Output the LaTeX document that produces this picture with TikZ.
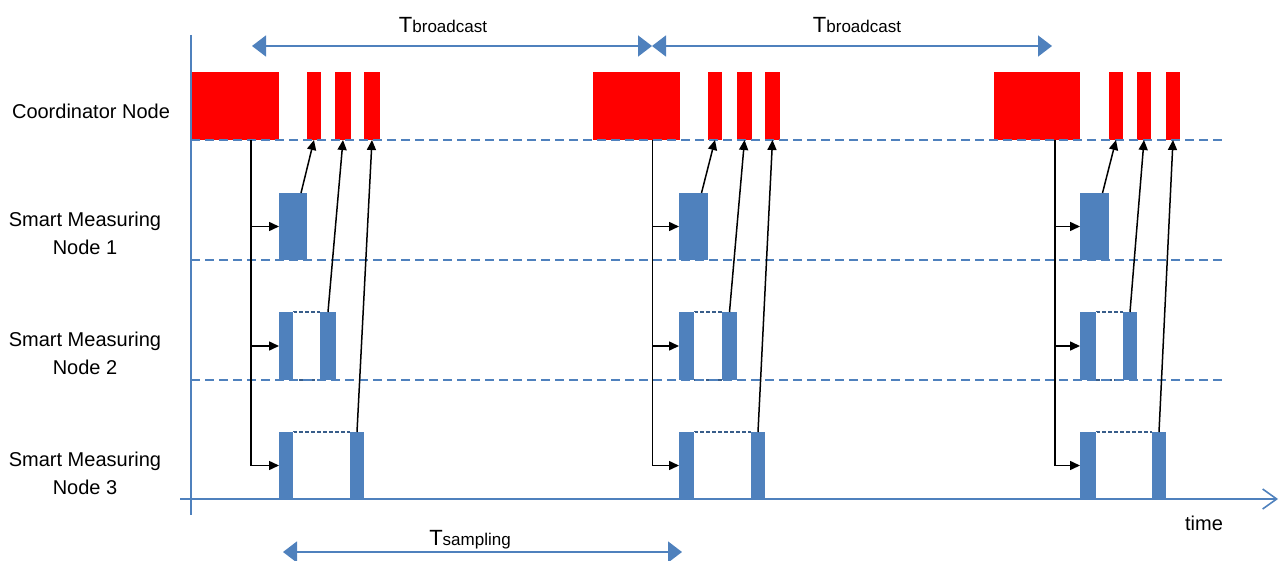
\documentclass[tikz,border=0pt]{standalone}
\usepackage{fontspec}
\setmainfont{Liberation Sans}
\usepackage{tikz}
\usetikzlibrary{calc,arrows.meta}

\definecolor{axisblue}{RGB}{79,129,189}
\definecolor{boxblue}{RGB}{56,93,138}

\begin{document}
\begin{tikzpicture}[x=1pt,y=-1pt,
  redblk/.style={fill=red,inner sep=0pt,outer sep=0pt,anchor=north west,minimum height=68pt},
  blublk/.style={fill=axisblue,inner sep=0pt,outer sep=0pt,anchor=north west,minimum height=67pt},
  lane/.style={axisblue,line width=1.5pt,dash pattern=on 9pt off 5pt},
  trig/.style={line width=1.5pt,-{Triangle[length=10pt,width=9pt]}},
  waitbox/.style={boxblue,line width=1.2pt,dash pattern=on 4pt off 2pt},
  periodarrow/.style={axisblue,line width=1.6pt,{Triangle[length=14pt,width=21pt]}-{Triangle[length=14pt,width=21pt]}},
  lbl/.style={font=\fontsize{20}{28}\selectfont,align=center,inner sep=0pt}]

\useasboundingbox (0,0) rectangle (1281,561);

% Row labels
\node[lbl,anchor=base] (coord) at (91,119) {Coordinator Node};
\node[lbl] (smn1) at (85,233) {Smart Measuring\\Node 1};
\node[lbl] (smn2) at (85,353) {Smart Measuring\\Node 2};
\node[lbl] (smn3) at (85,473) {Smart Measuring\\Node 3};

% First period
\node[redblk,minimum width=88pt] (cA)  at (191,72) {};
\node[redblk,minimum width=14pt] (cA1) at (307,72) {};
\node[redblk,minimum width=16pt] (cA2) at (335,72) {};
\node[redblk,minimum width=16pt] (cA3) at (364,72) {};
\node[blublk,minimum width=28pt] (mA1)  at (279,193) {};
\node[blublk,minimum width=14pt,minimum height=68pt] (mA2l) at (279,312) {};
\node[blublk,minimum width=16pt,minimum height=68pt] (mA2r) at (320,312) {};
\node[blublk,minimum width=14pt] (mA3l) at (279,432) {};
\node[blublk,minimum width=14pt] (mA3r) at (350,432) {};
\draw[waitbox] (mA2l.north east) -- (mA2r.north west) (mA2l.south east) -- (mA2r.south west);
\draw[waitbox] (mA3l.north east) -- (mA3r.north west) (mA3l.south east) -- (mA3r.south west);
\draw[white,dotted,line width=1pt] (mA2l.north east) -- (mA2l.south east);
\draw[white,dotted,line width=1pt] (mA3l.north east) -- (mA3l.south east);

% Second period
\begin{scope}[xshift=401pt]
\node[redblk,minimum width=87pt] (cB)  at (192,72) {};
\node[redblk,minimum width=14pt] (cB1) at (307,72) {};
\node[redblk,minimum width=15pt] (cB2) at (336,72) {};
\node[redblk,minimum width=15pt] (cB3) at (364,72) {};
\node[blublk,minimum width=29pt] (mB1)  at (278,193) {};
\node[blublk,minimum width=15pt,minimum height=68pt] (mB2l) at (278,312) {};
\node[blublk,minimum width=15pt,minimum height=68pt] (mB2r) at (321,312) {};
\node[blublk,minimum width=15pt] (mB3l) at (278,432) {};
\node[blublk,minimum width=14pt] (mB3r) at (350,432) {};
\draw[waitbox] (mB2l.north east) -- (mB2r.north west) (mB2l.south east) -- (mB2r.south west);
\draw[waitbox] (mB3l.north east) -- (mB3r.north west) (mB3l.south east) -- (mB3r.south west);
\draw[white,dotted,line width=1pt] (mB2l.north east) -- (mB2l.south east);
\draw[white,dotted,line width=1pt] (mB3l.north east) -- (mB3l.south east);
\end{scope}

% Third period
\begin{scope}[xshift=802pt]
\node[redblk,minimum width=86pt] (cC)  at (192,72) {};
\node[redblk,minimum width=14pt] (cC1) at (307,72) {};
\node[redblk,minimum width=14pt] (cC2) at (335,72) {};
\node[redblk,minimum width=14pt] (cC3) at (364,72) {};
\node[blublk,minimum width=29pt] (mC1)  at (278,193) {};
\node[blublk,minimum width=16pt,minimum height=68pt] (mC2l) at (278,312) {};
\node[blublk,minimum width=14pt,minimum height=68pt] (mC2r) at (321,312) {};
\node[blublk,minimum width=16pt] (mC3l) at (278,432) {};
\node[blublk,minimum width=14pt] (mC3r) at (350,432) {};
\draw[waitbox] (mC2l.north east) -- (mC2r.north west) (mC2l.south east) -- (mC2r.south west);
\draw[waitbox] (mC3l.north east) -- (mC3r.north west) (mC3l.south east) -- (mC3r.south west);
\draw[white,dotted,line width=1pt] (mC2l.north east) -- (mC2l.south east);
\draw[white,dotted,line width=1pt] (mC3l.north east) -- (mC3l.south east);
\end{scope}

% Draw axes, and dashed lane lines.
\draw[axisblue,line width=1.6pt] (191,35) -- (191,515);
\draw[axisblue,line width=1.6pt,-{Straight Barb[length=14pt,width=20pt]}] (180,499) -- (1278,499);
\draw[lane] (191,140) -- (1222,140);
\draw[lane] (191,260) -- (1222,260);
\draw[lane] (191,380) -- (1222,380);
\node[lbl,anchor=base] (time) at (1204,530) {time};

% Broadcast to the measuring nodes
\coordinate (tA) at ($(cA.south)+(16,0)$);
\draw[trig] (tA) |- (mA3l.west);
\draw[trig] (tA |- mA1.west) -- (mA1.west);
\draw[trig] (tA |- mA2l.west) -- (mA2l.west);
\coordinate (tB) at ($(cB.south)+(16,0)$);
\draw[trig] (tB) |- (mB3l.west);
\draw[trig] (tB |- mB1.west) -- (mB1.west);
\draw[trig] (tB |- mB2l.west) -- (mB2l.west);
\coordinate (tC) at ($(cC.south)+(18,0)$);
\draw[trig] (tC) |- (mC3l.west);
\draw[trig] (tC |- mC1.west) -- (mC1.west);
\draw[trig] (tC |- mC2l.west) -- (mC2l.west);

% Replies back to the coordinator
\draw[trig] ($(mA1.north)+(8,0)$) -- (cA1.south);
\draw[trig] (mA2r.north) -- (cA2.south);
\draw[trig] (mA3r.north) -- (cA3.south);
\draw[trig] ($(mB1.north)+(8,0)$) -- (cB1.south);
\draw[trig] (mB2r.north) -- (cB2.south);
\draw[trig] (mB3r.north) -- (cB3.south);
\draw[trig] ($(mC1.north)+(8,0)$) -- (cC1.south);
\draw[trig] (mC2r.north) -- (cC2.south);
\draw[trig] (mC3r.north) -- (cC3.south);

% Periods
\coordinate (bA) at (252,46);
\coordinate (bB) at (652,46);
\coordinate (bC) at (1052,46);
\draw[periodarrow] (bA) -- (bB);
\draw[periodarrow] (bB) -- (bC);
\node[anchor=base,inner sep=0pt] (tb1) at (443,33) {\fontsize{22}{24}\selectfont T\fontsize{17}{20}\selectfont broadcast};
\node[anchor=base,inner sep=0pt] (tb2) at (857,33) {\fontsize{22}{24}\selectfont T\fontsize{17}{20}\selectfont broadcast};
\coordinate (sA) at (283,552);
\coordinate (sB) at (682,552);
\draw[periodarrow] (sA) -- (sB);
\node[anchor=base,inner sep=0pt] (ts) at (470,545) {\fontsize{22}{24}\selectfont T\fontsize{17}{20}\selectfont sampling};
\end{tikzpicture}
\end{document}
